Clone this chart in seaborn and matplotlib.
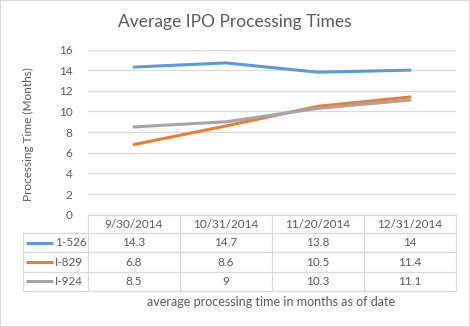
import matplotlib
matplotlib.use("Agg")
import matplotlib.pyplot as plt
import seaborn as sns
import pandas as pd
from matplotlib.patches import Rectangle

dates = ["9/30/2014", "10/31/2014", "11/20/2014", "12/31/2014"]
series_names = ["1-526", "I-829", "I-924"]
s526 = [14.3, 14.7, 13.8, 14]
s829 = [6.8, 8.6, 10.5, 11.4]
s924 = [8.5, 9, 10.3, 11.1]
labels_526 = ["14.3", "14.7", "13.8", "14"]
labels_829 = ["6.8", "8.6", "10.5", "11.4"]
labels_924 = ["8.5", "9", "10.3", "11.1"]
colors = ["#5B9BD5", "#ED7D31", "#A5A5A5"]
yticks = [0, 2, 4, 6, 8, 10, 12, 14, 16]

sns.set_theme(style="white")
plt.rcParams["font.family"] = ["Lato", "DejaVu Sans"]
txt = "#595959"
grid = "#D9D9D9"

rows = []
for name, vals in zip(series_names, [s526, s829, s924]):
    for i, v in enumerate(vals):
        rows.append({"idx": i, "value": v, "series": name})
df = pd.DataFrame(rows)

W, H = 470, 327
fig = plt.figure(figsize=(W / 100, H / 100), dpi=100)

left, right, top, bot = 88, 456, 49.5, 214.7
ax = fig.add_axes([left / W, 1 - bot / H, (right - left) / W, (bot - top) / H])
sns.lineplot(data=df, x="idx", y="value", hue="series", palette=colors,
             linewidth=2.2, legend=False, ax=ax)
ax.set_xlim(-0.5, 3.5)
ax.set_ylim(0, 16)
ax.set_yticks(yticks)
ax.set_yticklabels([str(t) for t in yticks], fontsize=8.5, color=txt)
ax.set_xticks([])
ax.set_xlabel("")
ax.set_ylabel("")
for s in ax.spines.values():
    s.set_visible(False)
ax.yaxis.grid(True, color=grid, linewidth=0.9)
ax.tick_params(axis="y", length=0, pad=11)
ax.set_axisbelow(True)

# overlay in pixel coordinates for table and texts
ov = fig.add_axes([0, 0, 1, 1], facecolor="none")
ov.set_xlim(0, W)
ov.set_ylim(H, 0)
ov.axis("off")

ov.text(235, 22, "Average IPO Processing Times", ha="center", va="center",
        fontsize=12.5, color=txt)
ov.text(28, 134, "Processing Time (Months)", ha="center", va="center",
        rotation=90, fontsize=8.5, color=txt)
ov.text(271, 302, "average processing time in months as of date",
        ha="center", va="center", fontsize=9, color=txt)

col_x = [88, 179.5, 271.7, 363.5, 456]
row_y = [215, 233.3, 252.3, 271.7, 290.7]
tl_x = 23.3
lw = 0.9
# horizontal lines
ov.plot([col_x[0], col_x[-1]], [row_y[0], row_y[0]], color=grid, lw=lw)
for y in row_y[1:]:
    ov.plot([tl_x, col_x[-1]], [y, y], color=grid, lw=lw)
# vertical lines
for x in col_x:
    ov.plot([x, x], [row_y[0], row_y[-1]], color=grid, lw=lw)
ov.plot([tl_x, tl_x], [row_y[1], row_y[-1]], color=grid, lw=lw)

for j, d in enumerate(dates):
    cx = (col_x[j] + col_x[j + 1]) / 2
    ov.text(cx, (row_y[0] + row_y[1]) / 2, d, ha="center", va="center",
            fontsize=8.5, color=txt)
for i, (name, labs, c) in enumerate(zip(series_names,
                                        [labels_526, labels_829, labels_924],
                                        colors)):
    cy = (row_y[i + 1] + row_y[i + 2]) / 2
    ov.plot([26, 53], [cy, cy], color=c, lw=2.2, solid_capstyle="butt")
    ov.text(55, cy, name, ha="left", va="center", fontsize=8.5, color=txt)
    for j, lab in enumerate(labs):
        cx = (col_x[j] + col_x[j + 1]) / 2
        ov.text(cx, cy, lab, ha="center", va="center", fontsize=8.5, color=txt)

fig.patches.append(Rectangle((0, 0), 1, 1, transform=fig.transFigure,
                             fill=False, edgecolor="#D9D9D9", linewidth=1.5))

fig.savefig("out.png", dpi=100)
